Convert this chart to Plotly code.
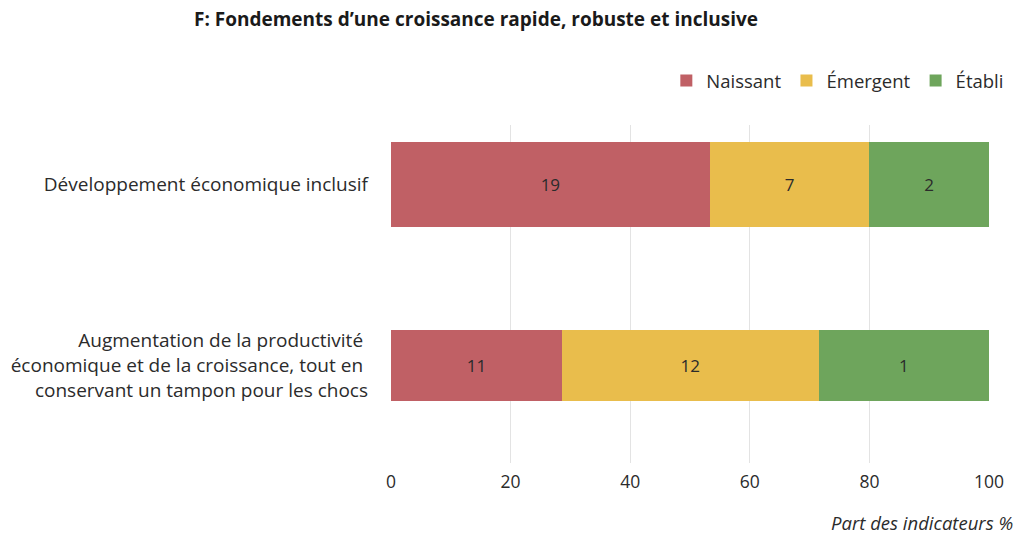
import plotly.graph_objects as go

# Categories (top to bottom)
categories = [
    "Développement économique inclusif",
    "Augmentation de la productivité <br>économique et de la croissance, tout en <br>conservant un tampon pour les chocs",
]
series_names = ["Naissant", "Émergent", "Établi"]

# Share of indicators (%) per stage
share_naissant = [53.3, 28.6]
share_emergent = [26.7, 42.9]
share_etabli = [20.0, 28.5]

# Indicator counts shown inside the bars
count_naissant = [19, 11]
count_emergent = [7, 12]
count_etabli = [2, 1]

x_ticks = [0, 20, 40, 60, 80, 100]

colors = ["#C06065", "#E9BD4C", "#6EA55C"]
bar_widths = [0.47, 0.392]
BODY_FONT = "Open Sans"
TEXT_COLOR = "#2b2b2b"

fig = go.Figure()
for name, share, count, color in zip(
    series_names,
    [share_naissant, share_emergent, share_etabli],
    [count_naissant, count_emergent, count_etabli],
    colors,
):
    fig.add_trace(
        go.Bar(
            name=name,
            y=categories,
            x=share,
            orientation="h",
            width=bar_widths,
            marker=dict(color=color, line=dict(width=0)),
            text=[str(c) for c in count],
            textposition="inside",
            insidetextanchor="middle",
            textangle=0,
            textfont=dict(family=BODY_FONT, size=17, color=TEXT_COLOR),
            hoverinfo="skip",
        )
    )

fig.update_layout(
    barmode="stack",
    width=1019,
    height=535,
    margin=dict(l=391, r=30, t=125, b=72, autoexpand=False),
    paper_bgcolor="white",
    plot_bgcolor="white",
    font=dict(family=BODY_FONT, size=18, color=TEXT_COLOR),
    showlegend=True,
    legend=dict(
        orientation="h",
        x=1.034,
        xanchor="right",
        y=1.13,
        yanchor="middle",
        font=dict(family=BODY_FONT, size=18.5, color=TEXT_COLOR),
        itemsizing="constant",
        traceorder="normal",
        bgcolor="rgba(0,0,0,0)",
    ),
    xaxis=dict(
        range=[0, 100],
        tickvals=x_ticks,
        ticktext=[str(t) for t in x_ticks],
        showgrid=True,
        gridcolor="#e3e3e3",
        gridwidth=1,
        zeroline=False,
        showline=False,
        ticks="",
        ticklabelstandoff=6,
        tickfont=dict(family=BODY_FONT, size=17.5, color=TEXT_COLOR),
    ),
    yaxis=dict(
        type="category",
        categoryorder="array",
        categoryarray=list(reversed(categories)),
        range=[-0.539, 1.329],
        showgrid=False,
        zeroline=False,
        showline=False,
        ticks="",
        ticklabelstandoff=22,
        tickfont=dict(family=BODY_FONT, size=19, color=TEXT_COLOR),
    ),
    annotations=[
        dict(
            text="<b>F: Fondements d’une croissance rapide, robuste et inclusive</b>",
            xref="paper", yref="paper",
            x=(476 - 391) / 598, y=(463 - 19) / 338,
            xanchor="center", yanchor="middle",
            showarrow=False,
            font=dict(family=BODY_FONT, size=19, color="#1a1a1a"),
        ),
        dict(
            text="<i>Part des indicateurs %</i>",
            xref="paper", yref="paper",
            x=(1015 - 391) / 598, y=(463 - 522) / 338,
            xanchor="right", yanchor="middle",
            showarrow=False,
            font=dict(family=BODY_FONT, size=18.5, color=TEXT_COLOR),
        ),
    ],
)

fig.write_html("out.html")
